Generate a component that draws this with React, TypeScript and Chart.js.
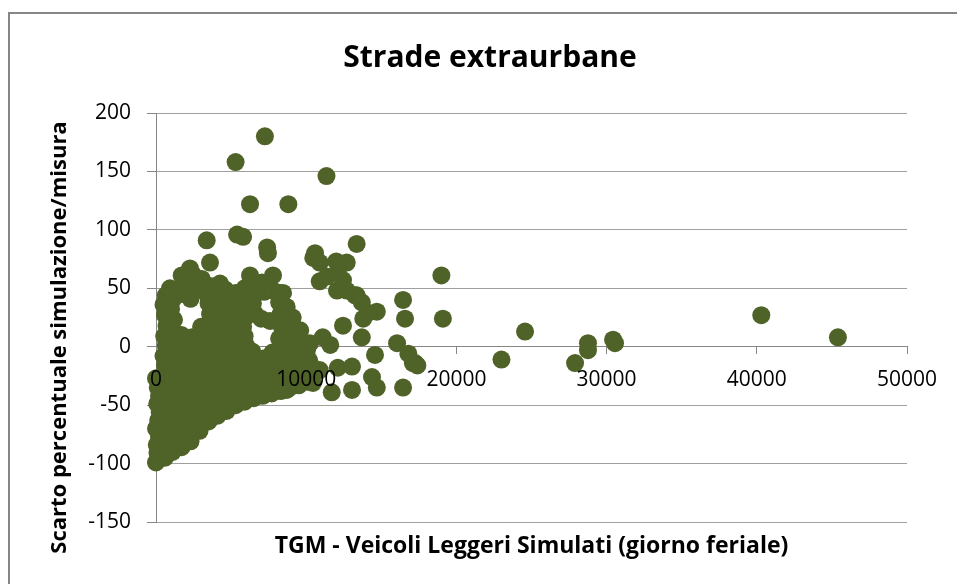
import React, { useEffect, useRef } from "react";
import { Chart, registerables } from "chart.js";

Chart.register(...registerables);

const chartTitle = "Strade extraurbane";
const xAxisTitle = "TGM - Veicoli Leggeri Simulati (giorno feriale)";
const yAxisTitle = "Scarto percentuale simulazione/misura";

const xTickValues = [0, 10000, 20000, 30000, 40000, 50000];
const yTickValues = [-150, -100, -50, 0, 50, 100, 150, 200];

// isolated points [TGM, scarto %]
const outlierPoints: [number, number][] = [
  [7250, 180], [5300, 158], [11350, 146], [6260, 122], [8810, 122], [3375, 91],
  [5400, 96], [5800, 94], [7400, 85], [7450, 80], [10590, 80], [10470, 76],
  [10900, 72], [12000, 73], [12700, 72], [13360, 88], [3595, 72], [2263, 67],
  [1710, 61], [931, 50], [6260, 61], [7790, 61], [4260, 54], [19000, 61],
  [19100, 24], [10900, 56], [11370, 60], [12100, 63], [12450, 57], [8460, 46],
  [16450, 40], [12700, 48], [13360, 44], [12050, 48], [13250, 44], [13700, 38],
  [14700, 30], [14100, 29], [13800, 24], [16580, 24], [12450, 18], [13700, 8],
  [16050, 3], [16800, -6], [17250, -14], [14580, -7], [12100, -18], [13050, -17],
  [14380, -26], [14700, -35], [16450, -35], [13050, -37], [11700, -39], [8700, -37],
  [10450, -31], [11100, 8], [11600, 1.5], [9600, 14], [10250, 3], [9100, 25],
  [8700, 34], [8250, 46], [24570, 13], [23000, -11], [27900, -14], [28760, 3],
  [28760, -3], [30430, 6], [30560, 3], [17100, -14], [17400, -16], [40300, 27],
  [45400, 8], [0, -27], [10900, -20], [10300, -16]
];

// dense cloud at low traffic volumes [TGM, scarto %]
const clusterPoints: [number, number][] = [
  [0, -99], [100, -91], [50, -84], [200, -77], [0, -70], [150, -63], [250, -56], [80, -49], [200, -42], [120, -35],
  [600, -95], [500, -87], [650, -80], [550, -72], [700, -64], [600, -56], [500, -48], [650, -40], [550, -32], [700, -24],
  [600, -16], [500, -8], [650, 1], [550, 9], [700, 18], [600, 27], [500, 36], [650, 44],
  [1100, -90], [1000, -82], [1200, -75], [1050, -67], [1150, -59], [1000, -51], [1200, -43], [1100, -35], [1000, -27],
  [1150, -19], [1050, -11], [1200, -3], [1000, 5], [1100, 14], [1200, 23], [1000, 32], [1150, 41],
  [1700, -86], [1600, -78], [1800, -71], [1650, -63], [1750, -55], [1600, -47], [1800, -39], [1700, -31], [1600, -23],
  [1750, -15], [1650, -7], [1800, 2], [1700, 10], [1600, 45], [1800, 53],
  [2300, -81], [2200, -73], [2400, -65], [2250, -57], [2350, -49], [2200, -41], [2400, -33], [2300, -25], [2200, -17],
  [2350, -9], [2250, 0], [2400, 8], [2300, 41], [2200, 55], [2450, 62],
  [2900, -72], [2800, -65], [3000, -57], [2850, -49], [2950, -41], [2800, -33], [3000, -25], [2900, -17], [2800, -9],
  [2950, 0], [2850, 9], [3000, 17], [2900, 50], [3050, 58],
  [3500, -64], [3400, -56], [3600, -48], [3450, -40], [3550, -32], [3400, -24], [3600, -16], [3500, -8], [3400, 1],
  [3550, 10], [3450, 19], [3600, 28], [3500, 37], [3400, 45], [3600, 52],
  [4100, -59], [4000, -51], [4200, -43], [4050, -35], [4150, -27], [4000, -19], [4200, -11], [4100, -3], [4000, 6],
  [4150, 14], [4050, 22], [4200, 30], [4100, 38], [4000, 46],
  [4700, -55], [4600, -47], [4800, -39], [4650, -31], [4750, -23], [4600, -15], [4800, -7], [4700, 1], [4600, 9],
  [4750, 17], [4650, 25], [4800, 33], [4700, 41], [4600, 49],
  [5300, -50], [5200, -42], [5400, -34], [5250, -26], [5350, -18], [5200, -10], [5400, -2], [5300, 6], [5200, 14],
  [5350, 22], [5250, 30], [5400, 38], [5300, 46],
  [5900, -47], [5800, -39], [6000, -31], [5850, -23], [5950, -15], [5800, -7], [6000, 1], [5900, 9], [5800, 17],
  [5950, 25], [5850, 33], [6000, 41], [5900, 50],
  [6500, -44], [6400, -36], [6600, -28], [6450, -20], [6550, -12], [6400, -4], [6600, 28], [6450, 37], [6550, 45], [6400, 53],
  [7100, -42], [7000, -34], [7200, -26], [7050, -18], [7150, -10], [7000, 24], [7200, 47], [7050, 55],
  [7700, -40], [7600, -32], [7800, -24], [7650, -15], [7750, -5], [7600, 22], [7800, 48],
  [8300, -38], [8200, -30], [8400, -22], [8250, -13], [8350, -3], [8200, 7], [8400, 16], [8300, 28], [8200, 38],
  [8900, -35], [8800, -27], [9000, -19], [8850, -10], [8950, 0], [8800, 9], [9000, 18],
  [9500, -33], [9400, -24], [9600, -14], [9450, -4], [9550, 6],
  [10100, -30], [10000, -21], [10200, -12], [10050, -3]
];

const pointColor = "#4F6228";
const axisColor = "#868686";
const gridColor = "#a0a0a0";
const fontFamily = "'Open Sans', 'Liberation Sans', sans-serif";

const yTitlePlugin = {
  id: "yTitleText",
  afterDraw(chart: any) {
    const { ctx, chartArea } = chart;
    ctx.save();
    ctx.translate(chartArea.left - 96, (chartArea.top + chartArea.bottom) / 2 + 20);
    ctx.rotate(-Math.PI / 2);
    ctx.font = `bold 22px ${fontFamily}`;
    ctx.fillStyle = "#000";
    ctx.textAlign = "center";
    ctx.textBaseline = "middle";
    ctx.fillText(yAxisTitle, 0, 0);
    ctx.restore();
  },
};

export default function App() {
  const canvasRef = useRef<HTMLCanvasElement | null>(null);

  useEffect(() => {
    const canvas = canvasRef.current;
    if (!canvas) return;
    const points = [...clusterPoints, ...outlierPoints].map(([x, y]) => ({ x, y }));
    const chart = new Chart(canvas, {
      type: "scatter",
      data: {
        datasets: [
          {
            data: points,
            backgroundColor: pointColor,
            borderColor: pointColor,
            borderWidth: 0,
            pointRadius: 9,
            pointHoverRadius: 9,
            clip: false as any,
          },
        ],
      },
      plugins: [yTitlePlugin],
      options: {
        animation: false,
        responsive: false,
        events: [],
        layout: { padding: { left: 23, right: 0, top: 0, bottom: 13 } },
        plugins: {
          legend: { display: false },
          tooltip: { enabled: false },
          title: {
            display: true,
            text: chartTitle,
            color: "#000",
            font: { family: fontFamily, size: 30, weight: "bold" },
            padding: { top: 40, bottom: 37 },
          },
        },
        scales: {
          x: {
            type: "linear",
            min: 0,
            max: 50000,
            position: { y: 0 } as any,
            afterBuildTicks: (s: any) => {
              s.ticks = xTickValues.map((v) => ({ value: v }));
            },
            ticks: {
              z: 1,
              color: "#000",
              font: { family: fontFamily, size: 21 },
              padding: 14,
              maxRotation: 0,
              autoSkip: false,
              callback: (v: any) => String(v),
            },
            grid: { drawOnChartArea: false, drawTicks: true, tickLength: 7, color: axisColor },
            border: { display: true, color: axisColor, width: 1 },
          },
          x2: {
            type: "linear",
            min: 0,
            max: 50000,
            position: "bottom",
            ticks: { display: false },
            grid: { display: false, drawTicks: false },
            border: { display: false },
            title: {
              display: true,
              text: xAxisTitle,
              color: "#000",
              font: { family: fontFamily, size: 23, weight: "bold" },
              padding: { top: 12, bottom: 11 },
            },
            afterFit: (s: any) => {
              s.height = 49;
            },
          },
          y: {
            type: "linear",
            min: -150,
            max: 200,
            afterBuildTicks: (s: any) => {
              s.ticks = yTickValues.map((v) => ({ value: v }));
            },
            ticks: {
              color: "#000",
              font: { family: fontFamily, size: 21 },
              padding: 16,
              callback: (v: any) => String(v),
            },
            grid: { color: gridColor, tickLength: 9, tickColor: axisColor },
            border: { display: true, color: axisColor, width: 1 },
            afterFit: (s: any) => {
              s.width = 133;
            },
          },
          y2: {
            type: "linear",
            min: -150,
            max: 200,
            position: "right",
            ticks: { display: false },
            grid: { display: false, drawTicks: false },
            border: { display: false },
            afterFit: (s: any) => {
              s.width = 50;
            },
          },
        },
      },
    });
    return () => chart.destroy();
  }, []);

  return (
    <div style={{ position: "fixed", left: 0, top: 0, width: 957, height: 584, background: "#fff", overflow: "hidden" }}>
      <canvas ref={canvasRef} width={957} height={584} style={{ position: "absolute", left: 0, top: 0 }} />
      <div
        style={{
          position: "absolute",
          left: 8,
          top: 12,
          width: 1000,
          height: 700,
          borderLeft: `2px solid ${axisColor}`,
          borderTop: `2px solid ${axisColor}`,
          pointerEvents: "none",
        }}
      />
    </div>
  );
}
